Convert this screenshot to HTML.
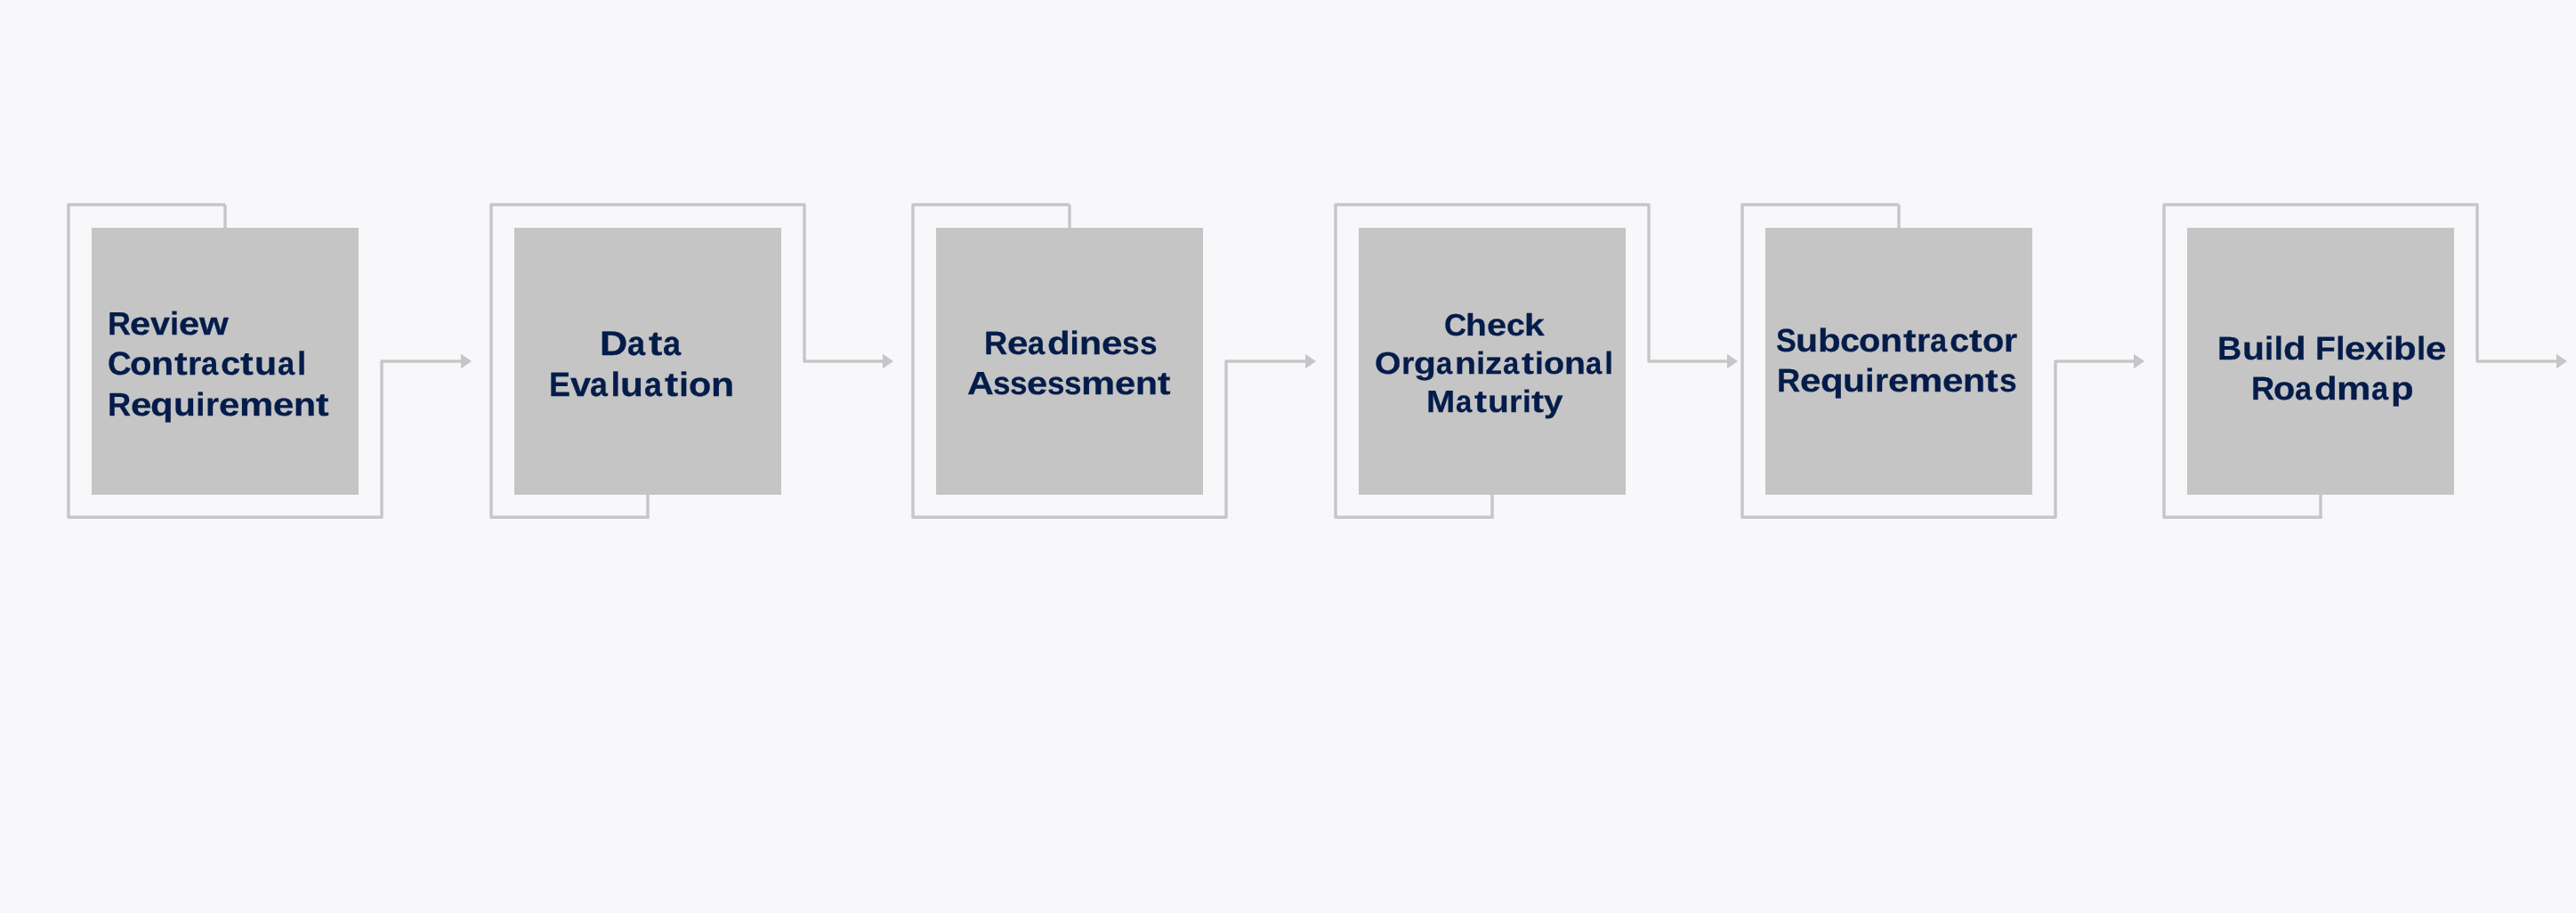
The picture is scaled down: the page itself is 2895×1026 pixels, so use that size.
<!DOCTYPE html>
<html><head><meta charset="utf-8"><title>Process Flow</title><style>
html,body{margin:0;padding:0;}
body{width:2895px;height:1026px;background:#f8f8fa;position:relative;overflow:hidden;font-family:"Liberation Sans",sans-serif;}
.b{position:absolute;top:256px;width:300px;height:300px;background:#c5c5c5;}
svg{position:absolute;left:0;top:0;}
svg path{fill:none;stroke:#c6c6c8;stroke-width:3.4;stroke-linejoin:round;stroke-linecap:butt;}
svg .ah{fill:#c6c6c8;stroke:none;}
.t{position:absolute;width:600px;font-weight:bold;color:#041c4a;white-space:nowrap;text-rendering:geometricPrecision;-webkit-text-stroke:0.25px #041c4a;}
.t span{display:inline-block;width:0;position:relative;transform-origin:0 0;}
.t i{font-size:0;}
.t{will-change:transform;}
</style></head><body>
<div class="b" style="left:103px"></div>
<div class="b" style="left:578px"></div>
<div class="b" style="left:1052px"></div>
<div class="b" style="left:1527px"></div>
<div class="b" style="left:1984px"></div>
<div class="b" style="left:2458px"></div>
<svg width="2895" height="1026" viewBox="0 0 2895 1026">
<path d="M253,256.5 V230"/>
<path d="M253,230 H77 V581.2 H429 V406 H519"/>
<polygon points="518,397.7 530,406 518,414.3" class="ah"/>
<path d="M728,555.5 V581.2"/>
<path d="M729.7,581.2 H552 V230 H904 V406 H993"/>
<polygon points="992,397.7 1004,406 992,414.3" class="ah"/>
<path d="M1202,256.5 V230"/>
<path d="M1202,230 H1026 V581.2 H1378 V406 H1468"/>
<polygon points="1467,397.7 1479,406 1467,414.3" class="ah"/>
<path d="M1677,555.5 V581.2"/>
<path d="M1678.7,581.2 H1501 V230 H1853 V406 H1942"/>
<polygon points="1941,397.7 1953,406 1941,414.3" class="ah"/>
<path d="M2134,256.5 V230"/>
<path d="M2134,230 H1958 V581.2 H2310 V406 H2399"/>
<polygon points="2398,397.7 2410,406 2398,414.3" class="ah"/>
<path d="M2608,555.5 V581.2"/>
<path d="M2609.7,581.2 H2432 V230 H2784 V406 H2874"/>
<polygon points="2873,397.7 2885,406 2873,414.3" class="ah"/>
</svg>
<div class="t" style="left:90px;top:345.74px;font-size:36.20px;line-height:36.20px"><span style="left:31.12px;transform:scaleX(0.993)">R</span><span style="left:56.48px;transform:scaleX(1.151)">e</span><span style="left:78.94px;transform:scaleX(1.090)">v</span><span style="left:101.01px;transform:scaleX(1.000)">i</span><span style="left:111.10px;transform:scaleX(1.151)">e</span><span style="left:134.25px;transform:scaleX(1.164)">w</span></div>
<div class="t" style="left:90px;top:390.50px;font-size:36.76px;line-height:36.76px"><span style="left:30.71px;transform:scaleX(1.003)">C</span><span style="left:56.14px;transform:scaleX(1.088)">o</span><span style="left:80.16px;transform:scaleX(1.125)">n</span><span style="left:105.58px;transform:scaleX(1.200)">t</span><span style="left:121.45px;transform:scaleX(1.065)">r</span><span style="left:136.17px;transform:scaleX(0.939)">a</span><span style="left:158.10px;transform:scaleX(1.086)">c</span><span style="left:180.28px;transform:scaleX(1.200)">t</span><span style="left:196.20px;transform:scaleX(1.115)">u</span><span style="left:221.64px;transform:scaleX(0.939)">a</span><span style="left:244.06px;transform:scaleX(1.000)">l</span></div>
<div class="t" style="left:90px;top:436.54px;font-size:36.49px;line-height:36.49px"><span style="left:31.10px;transform:scaleX(0.993)">R</span><span style="left:56.66px;transform:scaleX(1.151)">e</span><span style="left:79.44px;transform:scaleX(1.150)">q</span><span style="left:104.97px;transform:scaleX(1.115)">u</span><span style="left:130.13px;transform:scaleX(1.000)">i</span><span style="left:140.71px;transform:scaleX(1.065)">r</span><span style="left:155.59px;transform:scaleX(1.151)">e</span><span style="left:178.51px;transform:scaleX(1.183)">m</span><span style="left:216.58px;transform:scaleX(1.151)">e</span><span style="left:239.65px;transform:scaleX(1.125)">n</span><span style="left:264.89px;transform:scaleX(1.200)">t</span></div>
<div class="t" style="left:643px;top:367.70px;font-size:38.45px;line-height:38.45px"><span style="left:30.82px;transform:scaleX(1.129)">D</span><span style="left:62.44px;transform:scaleX(0.939)">a</span><span style="left:85.55px;transform:scaleX(1.200)">t</span><span style="left:101.88px;transform:scaleX(0.939)">a</span></div>
<div class="t" style="left:585px;top:413.67px;font-size:38.02px;line-height:38.02px"><span style="left:31.71px;transform:scaleX(0.947)">E</span><span style="left:55.77px;transform:scaleX(1.090)">v</span><span style="left:78.21px;transform:scaleX(0.939)">a</span><span style="left:101.40px;transform:scaleX(1.000)">l</span><span style="left:112.46px;transform:scaleX(1.115)">u</span><span style="left:138.76px;transform:scaleX(0.939)">a</span><span style="left:161.62px;transform:scaleX(1.200)">t</span><span style="left:178.36px;transform:scaleX(1.000)">i</span><span style="left:189.04px;transform:scaleX(1.088)">o</span><span style="left:213.88px;transform:scaleX(1.126)">n</span></div>
<div class="t" style="left:1075px;top:367.69px;font-size:36.58px;line-height:36.58px"><span style="left:31.09px;transform:scaleX(0.993)">R</span><span style="left:56.72px;transform:scaleX(1.151)">e</span><span style="left:79.92px;transform:scaleX(0.939)">a</span><span style="left:101.63px;transform:scaleX(1.150)">d</span><span style="left:127.51px;transform:scaleX(1.000)">i</span><span style="left:137.91px;transform:scaleX(1.125)">n</span><span style="left:162.94px;transform:scaleX(1.151)">e</span><span style="left:186.29px;transform:scaleX(0.966)">s</span><span style="left:205.58px;transform:scaleX(0.966)">s</span></div>
<div class="t" style="left:1058px;top:412.65px;font-size:36.27px;line-height:36.27px"><span style="left:29.31px;transform:scaleX(1.141)">A</span><span style="left:57.91px;transform:scaleX(0.966)">s</span><span style="left:77.03px;transform:scaleX(0.966)">s</span><span style="left:95.71px;transform:scaleX(1.151)">e</span><span style="left:118.86px;transform:scaleX(0.966)">s</span><span style="left:137.98px;transform:scaleX(0.966)">s</span><span style="left:156.72px;transform:scaleX(1.183)">m</span><span style="left:194.57px;transform:scaleX(1.151)">e</span><span style="left:217.50px;transform:scaleX(1.125)">n</span><span style="left:242.58px;transform:scaleX(1.200)">t</span></div>
<div class="t" style="left:1592px;top:348.86px;font-size:34.65px;line-height:34.65px"><span style="left:30.50px;transform:scaleX(1.003)">C</span><span style="left:55.25px;transform:scaleX(1.125)">h</span><span style="left:78.97px;transform:scaleX(1.151)">e</span><span style="left:100.77px;transform:scaleX(1.086)">c</span><span style="left:120.96px;transform:scaleX(1.179)">k</span></div>
<div class="t" style="left:1515px;top:391.90px;font-size:34.87px;line-height:34.87px"><span style="left:30.47px;transform:scaleX(1.084)">O</span><span style="left:59.84px;transform:scaleX(1.064)">r</span><span style="left:73.96px;transform:scaleX(1.167)">g</span><span style="left:99.09px;transform:scaleX(0.939)">a</span><span style="left:119.88px;transform:scaleX(1.125)">n</span><span style="left:144.30px;transform:scaleX(1.000)">i</span><span style="left:154.15px;transform:scaleX(1.107)">z</span><span style="left:173.62px;transform:scaleX(0.939)">a</span><span style="left:194.59px;transform:scaleX(1.200)">t</span><span style="left:209.96px;transform:scaleX(1.000)">i</span><span style="left:219.78px;transform:scaleX(1.088)">o</span><span style="left:242.58px;transform:scaleX(1.125)">n</span><span style="left:267.09px;transform:scaleX(0.939)">a</span><span style="left:288.37px;transform:scaleX(1.000)">l</span></div>
<div class="t" style="left:1572px;top:434.55px;font-size:34.88px;line-height:34.88px"><span style="left:30.83px;transform:scaleX(1.111)">M</span><span style="left:63.96px;transform:scaleX(0.939)">a</span><span style="left:84.94px;transform:scaleX(1.200)">t</span><span style="left:100.05px;transform:scaleX(1.115)">u</span><span style="left:123.81px;transform:scaleX(1.064)">r</span><span style="left:138.91px;transform:scaleX(1.000)">i</span><span style="left:149.03px;transform:scaleX(1.200)">t</span><span style="left:162.76px;transform:scaleX(1.108)">y</span></div>
<div class="t" style="left:1965px;top:364.93px;font-size:36.61px;line-height:36.61px"><span style="left:30.75px;transform:scaleX(0.930)">S</span><span style="left:53.37px;transform:scaleX(1.115)">u</span><span style="left:78.03px;transform:scaleX(1.150)">b</span><span style="left:103.05px;transform:scaleX(1.086)">c</span><span style="left:124.27px;transform:scaleX(1.088)">o</span><span style="left:148.20px;transform:scaleX(1.125)">n</span><span style="left:173.52px;transform:scaleX(1.200)">t</span><span style="left:189.32px;transform:scaleX(1.065)">r</span><span style="left:203.98px;transform:scaleX(0.939)">a</span><span style="left:225.82px;transform:scaleX(1.086)">c</span><span style="left:247.91px;transform:scaleX(1.200)">t</span><span style="left:262.77px;transform:scaleX(1.088)">o</span><span style="left:286.90px;transform:scaleX(1.065)">r</span></div>
<div class="t" style="left:1966px;top:409.51px;font-size:36.54px;line-height:36.54px"><span style="left:31.09px;transform:scaleX(0.993)">R</span><span style="left:56.69px;transform:scaleX(1.151)">e</span><span style="left:79.50px;transform:scaleX(1.150)">q</span><span style="left:105.06px;transform:scaleX(1.115)">u</span><span style="left:130.26px;transform:scaleX(1.000)">i</span><span style="left:140.85px;transform:scaleX(1.065)">r</span><span style="left:155.75px;transform:scaleX(1.151)">e</span><span style="left:178.70px;transform:scaleX(1.183)">m</span><span style="left:216.83px;transform:scaleX(1.151)">e</span><span style="left:239.93px;transform:scaleX(1.125)">n</span><span style="left:265.20px;transform:scaleX(1.200)">t</span><span style="left:281.00px;transform:scaleX(0.966)">s</span></div>
<div class="t" style="left:2461px;top:373.86px;font-size:36.54px;line-height:36.54px"><span style="left:31.44px;transform:scaleX(1.033)">B</span><span style="left:58.69px;transform:scaleX(1.115)">u</span><span style="left:83.88px;transform:scaleX(1.000)">i</span><span style="left:94.80px;transform:scaleX(1.000)">l</span><span style="left:104.97px;transform:scaleX(1.150)">d</span><i> </i><span style="left:141.33px;transform:scaleX(1.022)">F</span><span style="left:164.26px;transform:scaleX(1.000)">l</span><span style="left:174.44px;transform:scaleX(1.151)">e</span><span style="left:197.18px;transform:scaleX(1.058)">x</span><span style="left:219.09px;transform:scaleX(1.000)">i</span><span style="left:229.43px;transform:scaleX(1.150)">b</span><span style="left:255.04px;transform:scaleX(1.000)">l</span><span style="left:265.22px;transform:scaleX(1.151)">e</span></div>
<div class="t" style="left:2498px;top:418.65px;font-size:36.56px;line-height:36.56px"><span style="left:31.59px;transform:scaleX(0.993)">R</span><span style="left:57.30px;transform:scaleX(1.088)">o</span><span style="left:81.48px;transform:scaleX(0.939)">a</span><span style="left:103.18px;transform:scaleX(1.150)">d</span><span style="left:128.37px;transform:scaleX(1.183)">m</span><span style="left:167.20px;transform:scaleX(0.939)">a</span><span style="left:188.96px;transform:scaleX(1.147)">p</span></div>
</body></html>
